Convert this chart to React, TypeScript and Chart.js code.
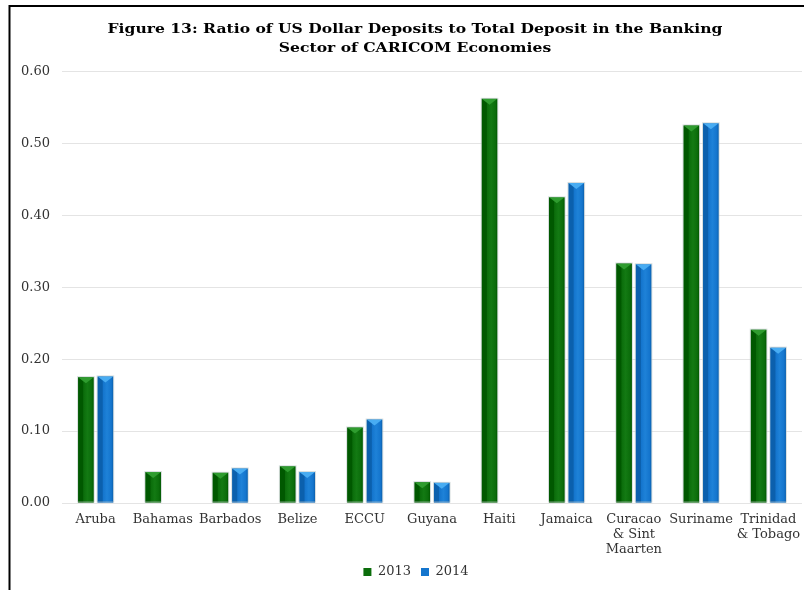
import React, { useEffect, useRef } from "react";
import { Chart, registerables } from "chart.js";

Chart.register(...registerables);

const categories: (string | string[])[] = [
  "Aruba",
  "Bahamas",
  "Barbados",
  "Belize",
  "ECCU",
  "Guyana",
  "Haiti",
  "Jamaica",
  ["Curacao", "& Sint", "Maarten"],
  "Suriname",
  ["Trinidad", "& Tobago"],
];
const values2013: (number | null)[] = [0.175, 0.043, 0.042, 0.051, 0.105, 0.029, 0.562, 0.425, 0.333, 0.525, 0.241];
const values2014: (number | null)[] = [0.176, null, 0.048, 0.043, 0.116, 0.028, null, 0.445, 0.332, 0.528, 0.216];
const seriesNames = ["2013", "2014"];
const titleLines = [
  "Figure 13: Ratio of US Dollar Deposits to Total Deposit in the Banking",
  "Sector of CARICOM Economies",
];
const yMin = 0;
const yMax = 0.6;
const yStep = 0.1;

const FONT = "'DejaVu Serif', serif";

const palette = [
  { main: "#0b6d0b", dark: "#005800", light: "#137a13", top: "#2f9c2f" },
  { main: "#1475cd", dark: "#0b60ad", light: "#1e82d8", top: "#48acf2" },
];

const framePlugin = {
  id: "frame",
  afterDraw(chart: any) {
    const ctx = chart.ctx;
    ctx.save();
    ctx.strokeStyle = "#000";
    ctx.lineWidth = 2;
    ctx.beginPath();
    ctx.moveTo(9, 6);
    ctx.lineTo(chart.width, 6);
    ctx.moveTo(9.5, 5);
    ctx.lineTo(9.5, chart.height);
    ctx.stroke();
    ctx.restore();
  },
};

const titlePlugin = {
  id: "twoLineTitle",
  afterDraw(chart: any) {
    const ctx = chart.ctx;
    ctx.save();
    ctx.fillStyle = "#000";
    ctx.font = `bold 13px ${FONT}`;
    ctx.textAlign = "center";
    ctx.textBaseline = "alphabetic";
    const w = ctx.measureText(titleLines[0]).width;
    const s = 615 / w;
    ctx.translate(415, 0);
    ctx.scale(s, 1);
    ctx.fillText(titleLines[0], 0, 33);
    ctx.fillText(titleLines[1], 0, 51.5);
    ctx.restore();
  },
};

const legendShiftPlugin = {
  id: "legendShift",
  afterLayout(chart: any) {
    const lg = chart.legend;
    if (lg) {
      lg.left += 15;
      lg.right += 15;
    }
  },
};

const bevelPlugin = {
  id: "bevel",
  afterDatasetsDraw(chart: any) {
    const ctx = chart.ctx;
    chart.data.datasets.forEach((ds: any, di: number) => {
      const meta = chart.getDatasetMeta(di);
      const pal = palette[di];
      meta.data.forEach((bar: any, i: number) => {
        if (ds.data[i] == null) return;
        const { x, y, base, width } = bar.getProps(["x", "y", "base", "width"], true);
        const left = x - width / 2;
        const right = x + width / 2;
        const g = ctx.createLinearGradient(left, 0, right, 0);
        g.addColorStop(0, pal.dark);
        g.addColorStop(0.3, pal.dark);
        g.addColorStop(0.36, pal.main);
        g.addColorStop(0.6, pal.light);
        g.addColorStop(0.88, pal.main);
        g.addColorStop(1, pal.dark);
        ctx.save();
        ctx.fillStyle = g;
        ctx.fillRect(left, y, width, base - y);
        const tri = Math.min(6, (base - y) * 0.6);
        ctx.fillStyle = pal.top;
        ctx.beginPath();
        ctx.moveTo(left, y);
        ctx.lineTo(right, y);
        ctx.lineTo(x, y + tri);
        ctx.closePath();
        ctx.fill();
        ctx.strokeStyle = "rgba(190,200,200,0.6)";
        ctx.lineWidth = 1;
        ctx.strokeRect(left - 0.5, y - 0.5, width + 1, base - y);
        ctx.restore();
      });
    });
  },
};

export default function App() {
  const canvasRef = useRef<HTMLCanvasElement | null>(null);

  useEffect(() => {
    document.body.style.margin = "0";
    const canvas = canvasRef.current;
    if (!canvas) return;
    const chart = new Chart(canvas, {
      type: "bar",
      data: {
        labels: categories as any,
        datasets: [
          {
            label: seriesNames[0],
            data: values2013,
            backgroundColor: palette[0].main,
            barPercentage: 0.8,
            categoryPercentage: 0.58,
          },
          {
            label: seriesNames[1],
            data: values2014,
            backgroundColor: palette[1].main,
            barPercentage: 0.8,
            categoryPercentage: 0.58,
          },
        ],
      },
      options: {
        responsive: false,
        animation: false,
        layout: { padding: { top: 71.5, left: 0, right: 2, bottom: 1.5 } },
        scales: {
          x: {
            grid: { display: false },
            border: { display: false },
            ticks: {
              color: "#333",
              font: { family: FONT, size: 13, lineHeight: 1.15 },
              padding: 1,
              maxRotation: 0,
              autoSkip: false,
            },
            afterFit(scale: any) {
              scale.height = 52.5;
            },
          },
          y: {
            min: yMin,
            max: yMax,
            grid: { color: "#e4e4e4", lineWidth: 1, drawTicks: false },
            border: { display: false },
            ticks: {
              stepSize: yStep,
              color: "#333",
              font: { family: FONT, size: 13 },
              padding: 12,
              callback: (v: any) => Number(v).toFixed(2),
            },
            afterFit(scale: any) {
              scale.width = 62;
            },
          },
        },
        plugins: {
          title: { display: false },
          tooltip: { enabled: false },
          legend: {
            position: "bottom",
            labels: {
              boxWidth: 8,
              boxHeight: 8,
              padding: 10,
              color: "#333",
              font: { family: FONT, size: 13 },
            },
          },
        },
      },
      plugins: [bevelPlugin, titlePlugin, framePlugin, legendShiftPlugin],
    });
    return () => chart.destroy();
  }, []);

  return (
    <div style={{ position: "absolute", left: 0, top: 0, width: 804, height: 590, background: "#fff" }}>
      <canvas ref={canvasRef} width={804} height={590} style={{ width: 804, height: 590, display: "block" }} />
    </div>
  );
}
